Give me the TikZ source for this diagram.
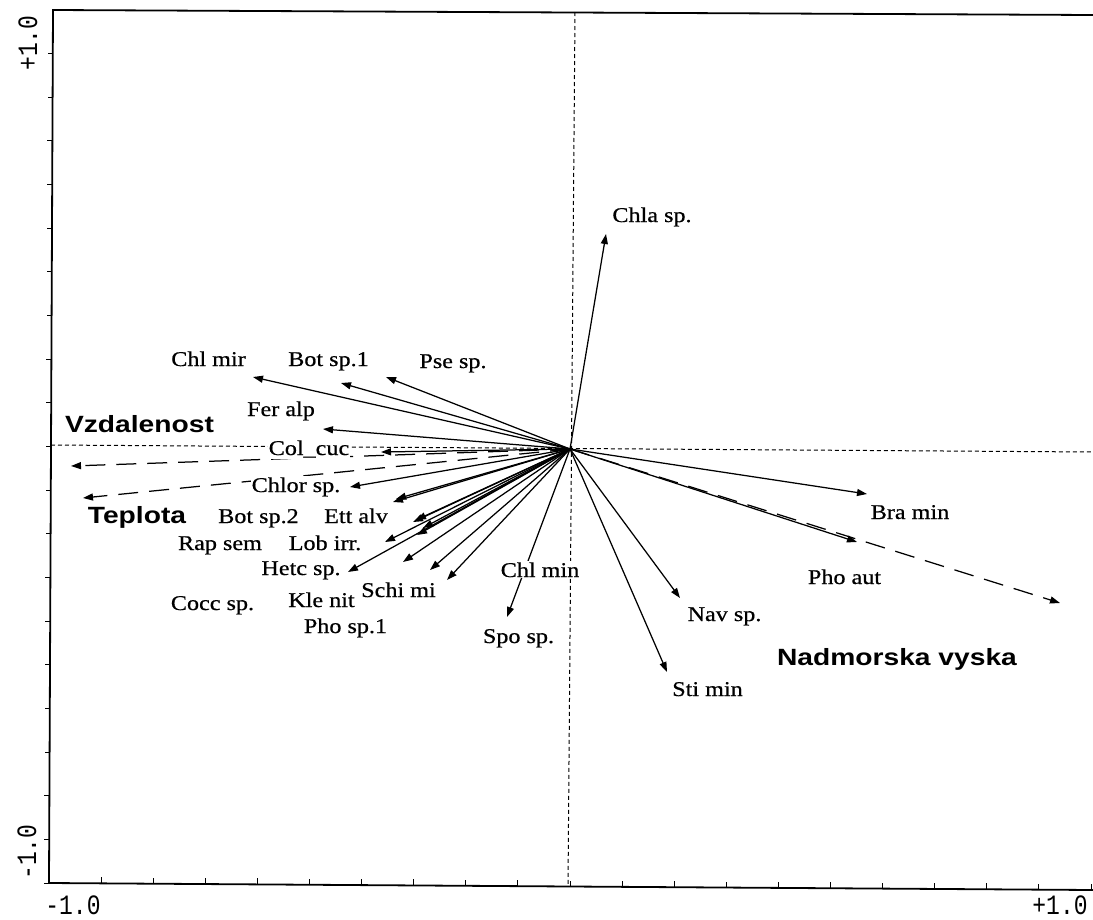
\documentclass[tikz,border=0pt]{standalone}
\usepackage{fontspec}
\usetikzlibrary{arrows.meta}
\newfontfamily\spfont[FakeStretch=1.15,FakeBold=0.6]{Liberation Serif}
\newfontfamily\envfont[FakeStretch=1.2]{Liberation Sans}
\newfontfamily\monofont[FakeStretch=0.82]{Liberation Mono}
\tikzset{
  sp/.style={font=\spfont\fontsize{21}{25}\selectfont, fill=white, inner xsep=1pt, inner ysep=1pt, anchor=base},
  envlab/.style={font=\envfont\bfseries\fontsize{23.5}{28}\selectfont, inner sep=1pt, anchor=base},
  vec/.style={line width=1.25pt, -{Triangle[length=10pt,width=7pt]}},
  envvec/.style={line width=1.25pt, dash pattern=on 20pt off 11pt, -{Triangle[length=10pt,width=7pt]}},
  axdash/.style={line width=1pt, dash pattern=on 4pt off 3pt},
  frameline/.style={line width=1.8pt},
  tickline/.style={line width=1pt},
  axnum/.style={font=\monofont\fontsize{28}{32}\selectfont, inner sep=0pt}
}
\begin{document}
\begin{tikzpicture}[x=1pt,y=-1pt]
\useasboundingbox (0,0) rectangle (1093,919);
\fill[white] (0,0) rectangle (1093,919);

% frame corners and axis ends
\coordinate (TL) at (53,10);
\coordinate (TR) at (1093,15);
\coordinate (BL) at (49,883);
\coordinate (BR) at (1093,890);
\coordinate (HL) at (51,445);
\coordinate (HR) at (1093,452);
\coordinate (VT) at (575,12);
\coordinate (VB) at (568,886);

% dashed axes through origin
\draw[axdash] (HL) -- (HR);
\draw[axdash] (VT) -- (VB);

% frame
\draw[frameline] (TR) -- (TL) -- (BL) -- (BR);

% ticks
\foreach \i in {1,...,20}{
  \pgfmathsetmacro{\ty}{10+43.65*\i}
  \pgfmathsetmacro{\tx}{53-4*(\ty-10)/873}
  \draw[tickline] (\tx,\ty) -- (\tx-5,\ty);
}
\foreach \i in {1,...,20}{
  \pgfmathsetmacro{\bx}{49+52.1*\i}
  \pgfmathsetmacro{\by}{883+7*(\bx-49)/1044}
  \draw[tickline] (\bx,\by) -- (\bx,\by-6);
}

% axis numbers
\node[axnum, rotate=90] (yTop) at (28,43) {+1.0};
\node[axnum, rotate=90] (yBot) at (27,852) {-1.0};
\node[axnum] (xLeft) at (73,905) {-1.0};
\node[axnum] (xRight) at (1060,905) {+1.0};

% origin and arrow tips
\coordinate (O) at (570,449);
\coordinate (tChla) at (606,234);
\coordinate (tChlmir) at (253,377);
\coordinate (tBot1) at (341,383);
\coordinate (tPse) at (386,377);
\coordinate (tFer) at (323,429);
\coordinate (tCol) at (381,452);
\coordinate (tChlor) at (350,487);
\coordinate (tA8) at (393,502);
\coordinate (tA9) at (396,499);
\coordinate (tA10) at (413,522);
\coordinate (tA10b) at (416,520);
\coordinate (tA11) at (423,528);
\coordinate (tA12) at (417,535);
\coordinate (tA13) at (385,542);
\coordinate (tA14) at (403,562);
\coordinate (tA15) at (430,570);
\coordinate (tA16) at (447,580);
\coordinate (tHetc) at (348,572);
\coordinate (tChlmin) at (507,617);
\coordinate (tNav) at (680,598);
\coordinate (tSti) at (667,672);
\coordinate (tBra) at (867,494);
\coordinate (tPhoaut) at (857,542);
\coordinate (eVzd) at (71,466);
\coordinate (eTep) at (83,498);
\coordinate (eNad) at (1060,603);

% species vectors
\foreach \t in {tChla,tChlmir,tBot1,tPse,tFer,tCol,tChlor,tA8,tA9,tA10,tA10b,tA11,tA12,tA13,tA14,tA15,tA16,tHetc,tChlmin,tNav,tSti,tBra,tPhoaut}{
  \draw[vec] (O) -- (\t);
}

% environmental vectors
\draw[envvec] (O) -- (eVzd);
\draw[envvec] (O) -- (eTep);
\draw[envvec] (O) -- (eNad);

% species labels
\node[sp] (lChla) at (652,222) {Chla sp.};
\node[sp] (lChlmir) at (208.5,366) {Chl mir};
\node[sp] (lBot1) at (328.5,366) {Bot sp.1};
\node[sp] (lPse) at (453,368) {Pse sp.};
\node[sp] (lFer) at (281,416) {Fer alp};
\node[sp] (lCol) at (309,455) {Col\_cuc};
\node[sp] (lChlor) at (296,492) {Chlor sp.};
\node[sp] (lBot2) at (258.5,523) {Bot sp.2};
\node[sp] (lEtt) at (356,523) {Ett alv};
\node[sp] (lRap) at (220,550) {Rap sem};
\node[sp] (lLob) at (325,550) {Lob irr.};
\node[sp] (lHetc) at (301,575) {Hetc sp.};
\node[sp] (lSchi) at (398.5,597) {Schi mi};
\node[sp] (lCocc) at (212.5,610) {Cocc sp.};
\node[sp] (lKle) at (321.5,607) {Kle nit};
\node[sp] (lPho1) at (345.5,633) {Pho sp.1};
\node[sp] (lChlmin) at (540,577) {Chl min};
\node[sp] (lSpo) at (518.5,643) {Spo sp.};
\node[sp] (lNav) at (724.5,621) {Nav sp.};
\node[sp] (lSti) at (707.5,696) {Sti min};
\node[sp] (lBra) at (910,519) {Bra min};
\node[sp] (lPhoaut) at (844.5,584) {Pho aut};

% environmental labels
\node[envlab] (lVzd) at (139.5,432) {Vzdalenost};
\node[envlab] (lTep) at (137,523) {Teplota};
\node[envlab] (lNad) at (897,665) {Nadmorska vyska};
\end{tikzpicture}
\end{document}
